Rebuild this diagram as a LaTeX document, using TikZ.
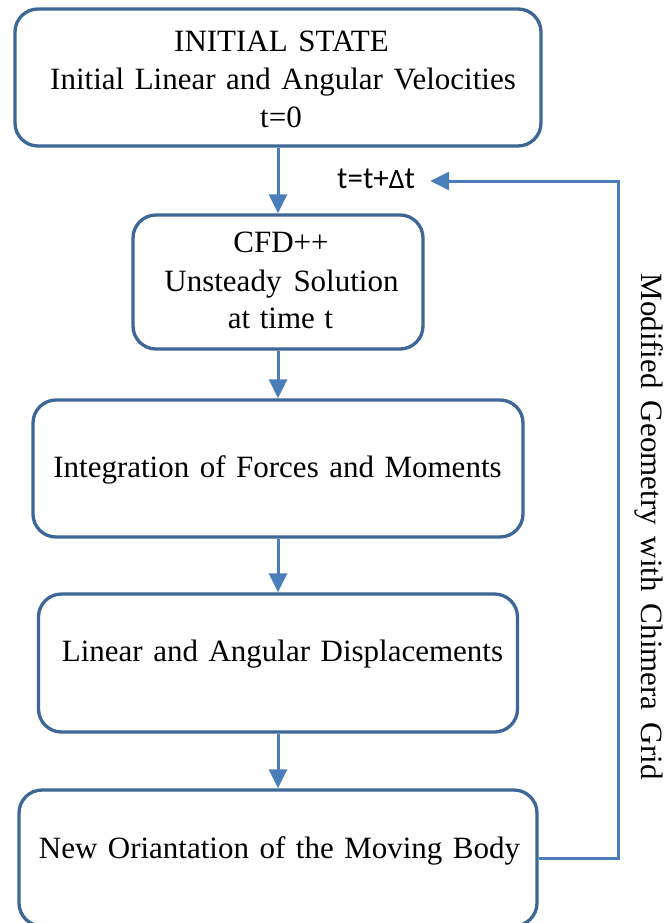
\documentclass[tikz,border=0pt]{standalone}
\usepackage{fontspec}
\setmainfont{Liberation Serif}
\newfontfamily\labelfont{Carlito}
\usetikzlibrary{arrows.meta}
\definecolor{boxline}{HTML}{3D6797}
\definecolor{flowline}{HTML}{4A7EBB}
% inter-word space of the box texts
\newcommand\wordgap[1]{\spaceskip #1\relax}
\begin{document}
\begin{tikzpicture}[x=1pt,y=-1pt,
  stepbox/.style={draw=boxline, line width=3.3pt, rounded corners=23pt,
    inner sep=0pt, fill=white},
  txt/.style={font={\fontsize{31}{38}\selectfont\wordgap{10.5pt}},
    inner sep=0pt},
  flow/.style={draw=flowline, line width=3pt,
    -{Triangle[length=19pt,width=18pt]}}]
% page area
\path[use as bounding box, fill=white] (0,0) rectangle (669,923);

% process boxes
\node[stepbox, minimum width=526pt, minimum height=137pt] (b1) at (278,77.5) {};
\node[stepbox, minimum width=290pt, minimum height=134pt] (b2) at (278,282) {};
\node[stepbox, minimum width=490pt, minimum height=137pt] (b3) at (278,468.5) {};
\node[stepbox, minimum width=479pt, minimum height=138pt] (b4) at (278,663) {};
\node[stepbox, minimum width=518pt, minimum height=136pt] (b5) at (278,858) {};

% box texts
\node[txt, anchor=base] (t1a) at (281.5,52) {INITIAL STATE};
\node[txt, anchor=base] (t1b) at (283,90) {Initial Linear and Angular Velocities};
\node[txt, anchor=base] (t1c) at (281,128) {t=0};
\node[txt, anchor=base] (t2a) at (281,252) {CFD++};
\node[txt, anchor=base, font={\fontsize{31}{38}\selectfont\wordgap{12pt}}]
  (t2b) at (281.5,291) {Unsteady Solution};
\node[txt, anchor=base, font={\fontsize{31}{38}\selectfont\wordgap{9.5pt}}]
  (t2c) at (280.5,328) {at time t};
\node[txt, anchor=base] (t3) at (277.5,477) {Integration of Forces and Moments};
\node[txt, anchor=base] (t4) at (282.5,661) {Linear and Angular Displacements};
\node[txt, anchor=base] (t5) at (279.5,858) {New Oriantation of the Moving Body};

% feedback labels
\node[txt, rotate=-90, anchor=base,
  font={\fontsize{31}{38}\selectfont\wordgap{12pt}}]
  (side) at (641,526.5) {Modified Geometry with Chimera Grid};
\node[anchor=base west, inner sep=0pt, font={\labelfont\fontsize{31}{34}\selectfont}]
  (lbl) at (337,188) {t=t+{\fontsize{28}{30}\selectfont Δ}t};

% main flow
\draw[flow] (b1.south) -- (b2.north);
\draw[flow] (b2.south) -- (b3.north);
\draw[flow] (b3.south) -- (b4.north);
\draw[flow] (b4.south) -- (b5.north);

% loop back to the next time step
\coordinate (ret) at (618,181);
\draw[flow] (b5.east) -| (ret) -- ([xshift=15pt]lbl.east |- ret);
\end{tikzpicture}
\end{document}
